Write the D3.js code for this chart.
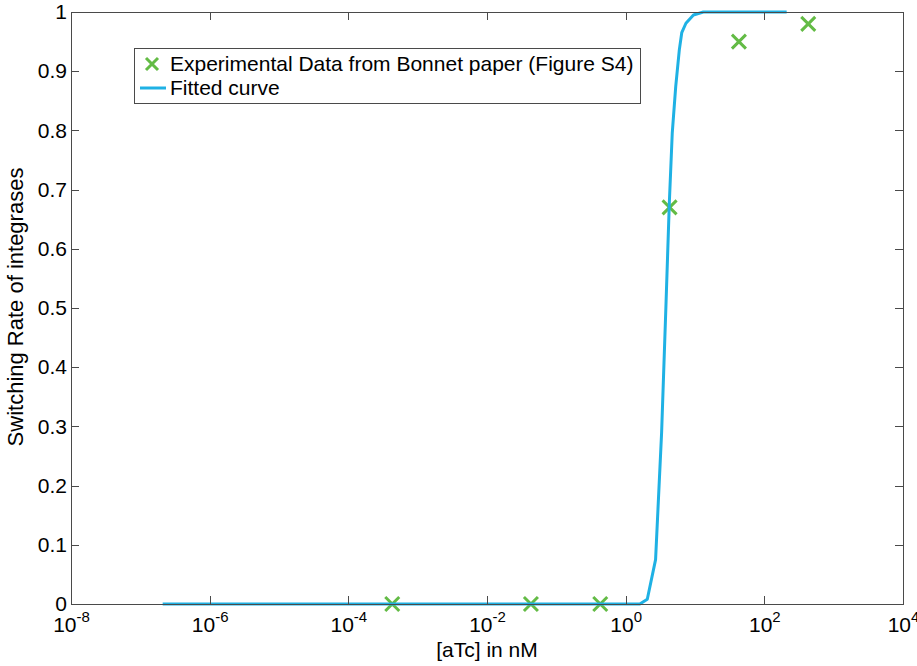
<!DOCTYPE html>
<html>
<head>
<meta charset="utf-8">
<script src="https://cdn.jsdelivr.net/npm/d3@7"></script>
<style>
  body { margin: 0; background: #fff; }
  svg text { font-family: "Liberation Sans", Arial, sans-serif; fill: #000; }
</style>
</head>
<body>
<script>

// experimental points
var expX = [0.00043, 0.043, 0.43, 4.3, 43, 430];
var expY = [0, 0, 0, 0.67, 0.95, 0.98];

// fitted curve vertices
var fitX = [2.1e-7, 1.6, 2.05, 2.7, 3.3, 3.8, 4.27, 4.7, 5.27, 5.94, 6.44, 7.4, 9.5, 13.2, 210];
var fitY = [0, 0, 0.008, 0.075, 0.29, 0.5, 0.68, 0.796, 0.874, 0.936, 0.965, 0.981, 0.995, 1, 1];

var xTicks = [1e-8, 1e-6, 1e-4, 1e-2, 1e0, 1e2, 1e4];
var xTickExp = ["-8", "-6", "-4", "-2", "0", "2", "4"];
var yTicks = [0, 0.1, 0.2, 0.3, 0.4, 0.5, 0.6, 0.7, 0.8, 0.9, 1];
var yTickLabels = ["0", "0.1", "0.2", "0.3", "0.4", "0.5", "0.6", "0.7", "0.8", "0.9", "1"];

var legendLabels = ["Experimental Data from Bonnet paper (Figure S4)", "Fitted curve"];

var width = 917, height = 666;
var margin = { top: 12, right: 14, bottom: 62, left: 71 };

var svg = d3.select("body")
  .append("svg")
  .attr("width", width)
  .attr("height", height);

var xScale = d3.scaleLog()
  .domain([1e-8, 1e4])
  .range([margin.left, width - margin.right]);

var yScale = d3.scaleLinear()
  .domain([0, 1])
  .range([height - margin.bottom, margin.top]);

var green = "#63bb45";
var blue = "#1fb1e4";
var axisColor = "#4a4a4a";

// markers first, curve drawn over them
var crossSize = 7;
var marks = svg.append("g");
marks.selectAll("path")
  .data(expX.map(function(d, i) { return { x: d, y: expY[i] }; }))
  .enter()
  .append("path")
    .attr("d", function(d) {
      var cx = xScale(d.x), cy = yScale(d.y), s = crossSize;
      return "M" + (cx - s) + "," + (cy - s) + "L" + (cx + s) + "," + (cy + s) +
             "M" + (cx - s) + "," + (cy + s) + "L" + (cx + s) + "," + (cy - s);
    })
    .attr("stroke", green)
    .attr("stroke-width", 3)
    .attr("fill", "none");

var line = d3.line()
  .x(function(d) { return xScale(d.x); })
  .y(function(d) { return yScale(d.y); });

svg.append("path")
  .datum(fitX.map(function(d, i) { return { x: d, y: fitY[i] }; }))
  .attr("d", line)
  .attr("fill", "none")
  .attr("stroke", blue)
  .attr("stroke-width", 3)
  .attr("stroke-linejoin", "round");

// axes, ticks pointing inward on all four sides
function styleAxis(g) {
  g.attr("font-family", null).attr("font-size", null);
  g.selectAll("path, line").attr("stroke", axisColor).attr("shape-rendering", "crispEdges");
}

var xAxis = svg.append("g")
  .attr("transform", "translate(0," + (height - margin.bottom) + ")")
  .call(d3.axisBottom(xScale).tickValues(xTicks).tickSizeInner(-8).tickSizeOuter(0).tickFormat(""))
  .call(styleAxis);

xAxis.selectAll(".tick text").remove();
xAxis.selectAll(".tick").append("text")
  .attr("y", 28)
  .attr("text-anchor", "middle")
  .style("font-size", "21px")
  .each(function(d, i) {
    var t = d3.select(this);
    t.append("tspan").text("10");
    t.append("tspan").attr("dy", -10).style("font-size", "15px").text(xTickExp[i]);
  });

svg.append("g")
  .attr("transform", "translate(0," + margin.top + ")")
  .call(d3.axisTop(xScale).tickValues(xTicks).tickSizeInner(-8).tickSizeOuter(0).tickFormat(""))
  .call(styleAxis);

var yAxis = svg.append("g")
  .attr("transform", "translate(" + margin.left + ",0)")
  .call(d3.axisLeft(yScale).tickValues(yTicks).tickSizeInner(-8).tickSizeOuter(0).tickPadding(4)
    .tickFormat(function(d, i) { return yTickLabels[i]; }))
  .call(styleAxis);

yAxis.selectAll(".tick text")
  .style("font-size", "21px");

svg.append("g")
  .attr("transform", "translate(" + (width - margin.right) + ",0)")
  .call(d3.axisRight(yScale).tickValues(yTicks).tickSizeInner(-8).tickSizeOuter(0).tickFormat(""))
  .call(styleAxis);

// axis titles
svg.append("text")
  .attr("x", (margin.left + width - margin.right) / 2)
  .attr("y", 657)
  .attr("text-anchor", "middle")
  .style("font-size", "21px")
  .text("[aTc] in nM");

svg.append("text")
  .attr("transform", "translate(23," + 307 + ") rotate(-90)")
  .attr("text-anchor", "middle")
  .style("font-size", "22px")
  .text("Switching Rate of integrases");

// legend
var legend = svg.append("g");
legend.append("rect")
  .attr("x", 134.5)
  .attr("y", 48.5)
  .attr("width", 506)
  .attr("height", 55)
  .attr("fill", "#fff")
  .attr("stroke", axisColor)
  .attr("stroke-width", 1);

legend.append("path")
  .attr("d", "M146,58L158,70M146,70L158,58")
  .attr("stroke", green)
  .attr("stroke-width", 3);

legend.append("line")
  .attr("x1", 140).attr("x2", 166)
  .attr("y1", 88).attr("y2", 88)
  .attr("stroke", blue)
  .attr("stroke-width", 3);

legend.selectAll("text.lbl")
  .data(legendLabels)
  .enter()
  .append("text")
    .attr("class", "lbl")
    .attr("x", 170)
    .attr("y", function(d, i) { return 71 + i * 24; })
    .style("font-size", "21px")
    .text(function(d) { return d; });

</script>
</body>
</html>
